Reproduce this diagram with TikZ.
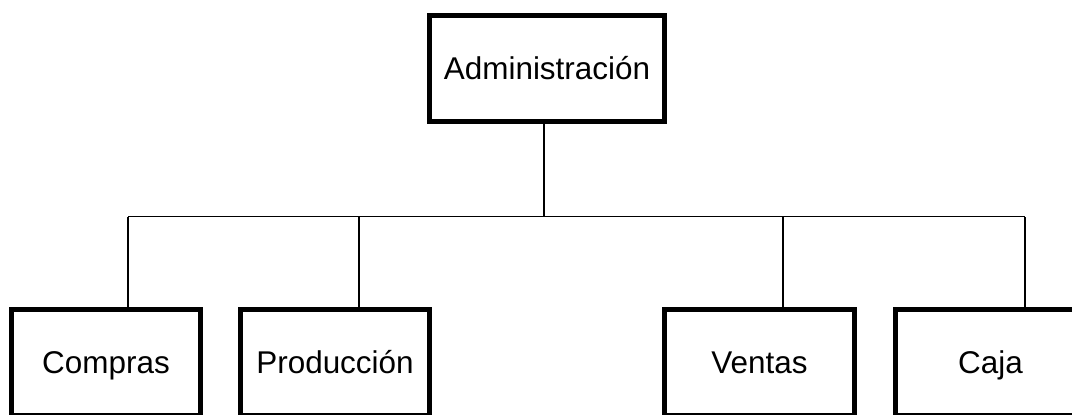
\documentclass[tikz,border=0pt]{standalone}
\usepackage{fontspec}
\setmainfont{Liberation Sans}
\begin{document}
\begin{tikzpicture}[x=0.02cm, y=-0.02cm,
        unit/.style={draw, line width=0.1cm, minimum width=3.8cm, minimum height=2.12cm,
                     text height=16.6pt, text depth=3.8pt,
                     font=\fontsize{17.9}{21}\selectfont},
        link/.style={line width=0.034cm}]
    \useasboundingbox (0,0) rectangle (1072,414);
    \clip (0,0) rectangle (1072,414);

    % head of the chart
    \node[unit, minimum width=4.7cm] (adm) at (547,68.5) {Administración};

    % the four departments, cut off by the lower edge
    \node[unit] (cmp) at (106,362.5) {Compras};
    \node[unit] (prd) at (335,362.5) {Producción};
    \node[unit] (vta) at (759.5,362.5) {Ventas};
    \node[unit] (cja) at (990.5,362.5) {Caja};

    % bus line and the drops to each box
    \coordinate (busL) at (128,216.5);
    \coordinate (busR) at (1025,216.5);
    \draw[link] (busL) -- (busR);
    \draw[link] ([xshift=-0.06cm]adm.south) -- ([xshift=-0.06cm]adm.south |- busL);
    \foreach \n/\dx in {cmp/0.44, prd/0.48, vta/0.47, cja/0.69}
        \draw[link] ([xshift=\dx cm]\n.north) -- ([xshift=\dx cm]\n.north |- busL);
\end{tikzpicture}
\end{document}
